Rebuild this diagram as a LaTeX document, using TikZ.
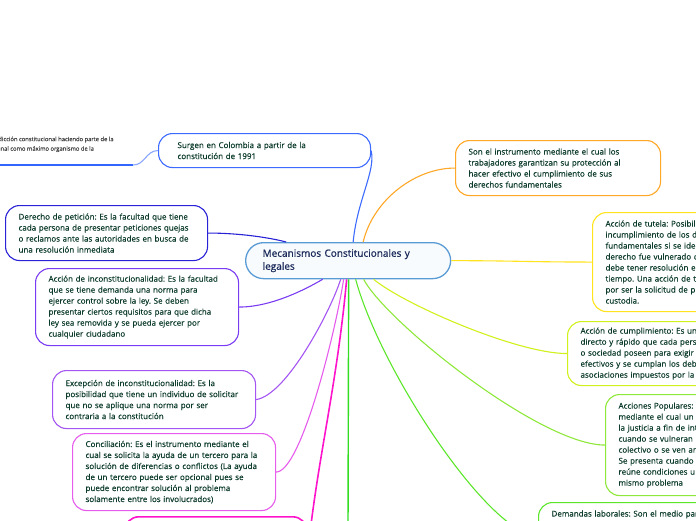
\documentclass[tikz,border=0pt]{standalone}
\usepackage{fontspec}
\setmainfont{Open Sans}[FakeBold=0.35]
\newfontfamily\mainfont{Open Sans}[FakeBold=0.8]
\usepackage{tikz}
\frenchspacing

\definecolor{cMain}{HTML}{5B9BD5}
\definecolor{cSur}{HTML}{3D6BFF}
\definecolor{cUl}{HTML}{3366FF}
\definecolor{cUlc}{HTML}{8AA6FF}
\definecolor{cDer}{HTML}{2A22D6}
\definecolor{cAcc}{HTML}{7A3CF2}
\definecolor{cExc}{HTML}{A455F2}
\definecolor{cCon}{HTML}{E65CEC}
\definecolor{cBot}{HTML}{FF14CC}
\definecolor{cGrn}{HTML}{33DD22}
\definecolor{cDem}{HTML}{5CE62A}
\definecolor{cPop}{HTML}{8EE83A}
\definecolor{cCum}{HTML}{D2F01C}
\definecolor{cTut}{HTML}{FFE31C}
\definecolor{cOrg}{HTML}{FFA726}
\definecolor{txt}{HTML}{0C3B2B}
\definecolor{mtxt}{HTML}{1B2A5A}

\begin{document}
\begin{tikzpicture}[x=1pt,y=-1pt,
          topic/.style={draw,rounded corners=14,fill=white,line width=1.1,anchor=north west,
                        align=left,inner xsep=13,inner ysep=0,text=txt,font=\fontsize{8}{11}\selectfont},
          central/.style={topic,draw=cMain,fill=cMain!4,rounded corners=18,line width=1.3,
                        inner xsep=17,text=mtxt,font=\mainfont\fontsize{10}{13}\selectfont},
          link/.style={line width=1.1}
        ]
        \useasboundingbox (0,0) rectangle (696,520);
        \clip (0,0) rectangle (696,520);

        %central topic
        \node[central,minimum width=205,minimum height=36,text width=171] (main) at (245,242)
          {Mecanismos Constitucionales y\\legales};

        %left branch
        \node[topic,draw=cSur,inner xsep=19,minimum width=212,minimum height=34,text width=174] (surg) at (158,133)
          {Surgen en Colombia a partir de la\\constitución de 1991};
        \node[anchor=north west,inner sep=0,align=left,text=black!75,font=\fontsize{5.8}{9.5}\selectfont] (old) at (-13.5,136.5)
          {Jurisdicción constitucional haciendo parte de la\\Tribunal como máximo organismo de la};
        \coordinate (ul0) at (-5,165);
        \coordinate (ul1) at (133,165);
        \node[topic,draw=cDer,minimum width=202,minimum height=55,text width=176] (der) at (5,205)
          {Derecho de petición: Es la facultad que tiene\\cada persona de presentar peticiones quejas\\o reclamos ante las autoridades en busca de\\una resolución inmediata};
        \node[topic,draw=cAcc,minimum width=203,minimum height=77,text width=177] (acc) at (35,268)
          {Acción de inconstitucionalidad: Es la facultad\\que se tiene demanda una norma para\\ejercer control sobre la ley. Se deben\\presentar ciertos requisitos para que dicha\\ley sea removida y se pueda ejercer por\\cualquier ciudadano};
        \node[topic,draw=cExc,minimum width=203,minimum height=58,text width=177] (exc) at (52,370)
          {Excepción de inconstitucionalidad: Es la\\posibilidad que tiene un individuo de solicitar\\que no se aplique una norma por ser\\contraria a la constitución};
        \node[topic,draw=cCon,minimum width=203,minimum height=77,text width=177] (con) at (72,433)
          {Conciliación: Es el instrumento mediante el\\cual se solicita la ayuda de un tercero para la\\solución de diferencias o conflictos (La ayuda\\de un tercero puede ser opcional pues se\\puede encontrar solución al problema\\solamente entre los involucrados)};
        \node[topic,draw=cBot,line width=1.6,minimum width=182,minimum height=80] (bot) at (124,516) {};
        \coordinate (low) at (348,530);

        %right branch
        \node[topic,draw=cOrg,minimum width=205,minimum height=55,text width=179] (org) at (455,140)
          {Son el instrumento mediante el cual los\\trabajadores garantizan su protección al\\hacer efectivo el cumplimiento de sus\\derechos fundamentales};
        \node[topic,draw=cTut,minimum width=180,minimum height=99,text width=154] (tut) at (592,212)
          {Acción de tutela: Posibilidad de\\incumplimiento de los derechos\\fundamentales si se identifica\\derecho fue vulnerado o\\debe tener resolución en\\tiempo. Una acción de tutela\\por ser la solicitud de protección\\custodia.};
        \node[topic,draw=cCum,minimum width=190,minimum height=64,text width=164] (cum) at (567,321)
          {Acción de cumplimiento: Es un\\directo y rápido que cada persona\\o sociedad poseen para exigir\\efectivos y se cumplan los deberes\\asociaciones impuestos por la};
        \node[topic,draw=cPop,minimum width=160,minimum height=101,text width=134] (pop) at (605,394)
          {Acciones Populares: Es el\\mediante el cual un\\la justicia a fin de intervenir\\cuando se vulneran los\\colectivo o se ven amenazados\\Se presenta cuando un\\reúne condiciones u\\mismo problema};
        \node[topic,draw=cDem,inner ysep=8,text height=6,text depth=45,minimum width=220,text width=194] (dem) at (538,502)
          {Demandas laborales: Son el medio para};

        %connectors
        \draw[link,cUl,line width=2] (ul0) -- (ul1);
        \draw[link,cUlc] (ul1) .. controls +(12,0) and +(-12,0) .. (surg.west);
        \draw[link,cSur] ([xshift=5]main.north) .. controls +(4,-42) and +(5,20) .. (surg.east);
        \draw[link,cDer] (der.east) .. controls +(33,0) and +(-15,-4) .. ([xshift=-62]main.north);
        \draw[link,cAcc] (acc.east) .. controls +(32,0) and +(-17,10) .. ([xshift=-25.5]main.south);
        \draw[link,cExc] (exc.east) .. controls +(30,-4) and +(-10,32) .. ([xshift=-7.5]main.south);
        \draw[link,cCon] (con.east) .. controls +(25,0) and +(-8,52) .. ([xshift=-4.5]main.south);
        \draw[link,cBot,line width=1.6] ([xshift=-1.5]main.south) .. controls +(-10,110) and +(8,-90) .. (bot.east);
        \draw[link,cGrn,line width=1.4] ([xshift=0.5]main.south) -- (low);
        \draw[link,cDem] ([xshift=7.5]main.south) .. controls +(25,92) and +(-48,0) .. (dem.west);
        \draw[link,cPop] ([xshift=15.5]main.south) .. controls +(22,42) and +(-65,0) .. (pop.west);
        \draw[link,cCum] ([xshift=25.5]main.south) .. controls +(30,25) and +(-50,0) .. (cum.west);
        \draw[link,cTut] (main.east) .. controls +(60,0) and +(-60,0) .. (tut.west);
        \draw[link,cOrg] ([xshift=15]main.north) .. controls +(10,-42) and +(-40,0) .. (org.west);
    \end{tikzpicture}
\end{document}
